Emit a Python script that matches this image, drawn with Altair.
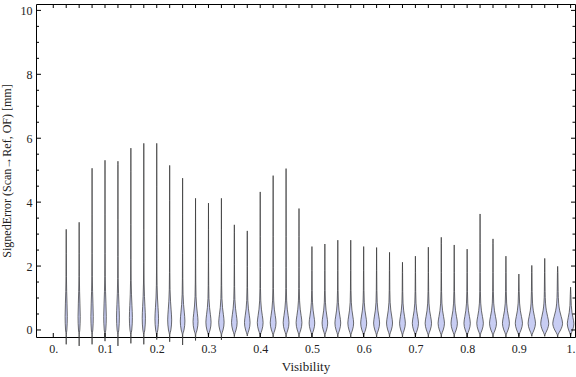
import altair as alt
import pandas as pd

# --- data -------------------------------------------------------------------
centers = [0.025, 0.05, 0.075, 0.1, 0.125, 0.15, 0.175, 0.2, 0.225, 0.25,
           0.275, 0.3, 0.325, 0.35, 0.375, 0.4, 0.425, 0.45, 0.475, 0.5,
           0.525, 0.55, 0.575, 0.6, 0.625, 0.65, 0.675, 0.7, 0.725, 0.75,
           0.775, 0.8, 0.825, 0.85, 0.875, 0.9, 0.925, 0.95, 0.975, 1.0]
max_vals = [3.15, 3.37, 5.06, 5.31, 5.28, 5.69, 5.84, 5.84, 5.15, 4.75,
            4.12, 3.97, 4.12, 3.29, 3.10, 4.32, 4.83, 5.05, 3.80, 2.61,
            2.69, 2.81, 2.81, 2.61, 2.58, 2.43, 2.12, 2.31, 2.59, 2.90,
            2.66, 2.53, 3.63, 2.85, 2.31, 1.75, 2.02, 2.24, 1.99, 1.34]
min_vals = [-0.45, -0.50, -0.45, -0.35, -0.50, -0.42, -0.45, -0.30, -0.37, -0.47,
            -0.33, -0.25, -0.31, -0.21, -0.19, -0.25, -0.25, -0.25, -0.25, -0.25,
            -0.25, -0.25, -0.25, -0.25, -0.25, -0.25, -0.25, -0.25, -0.22, -0.22,
            -0.22, -0.22, -0.22, -0.22, -0.22, -0.20, -0.20, -0.20, -0.22, -0.20]
# half width of the widest part, in pixels
half_width_px = [1.1, 1.1, 1.2, 1.3, 1.4, 1.5, 1.6, 1.8, 2.0, 2.3,
                 2.5, 2.6, 2.7, 2.8, 2.8, 2.9, 2.9, 2.9, 2.9, 2.8,
                 2.8, 2.9, 2.9, 3.0, 3.0, 3.0, 2.9, 3.1, 3.2, 3.2,
                 3.2, 3.2, 3.3, 3.5, 3.5, 3.6, 3.7, 4.0, 4.9, 3.3]
# vertical stretch of the body
spread = [1.2, 1.2, 1.2, 1.2, 1.15, 1.1, 1.05, 1.0, 0.9, 0.8,
          0.75, 0.7, 0.7, 0.68, 0.66, 0.65, 0.65, 0.65, 0.65, 0.62,
          0.62, 0.62, 0.62, 0.62, 0.62, 0.62, 0.6, 0.6, 0.6, 0.6,
          0.6, 0.6, 0.6, 0.6, 0.6, 0.6, 0.6, 0.6, 0.6, 0.55]

# common violin outline (relative height, relative width)
profile_t = [0.0, 0.35, 0.7, 1.0, 1.4, 2.0, 3.0, 4.5]
profile_w = [0.6, 1.0, 0.72, 0.42, 0.2, 0.1, 0.05, 0.03]
bottom_y = [-0.15, -0.08]
bottom_w = [0.08, 0.3]

x_ticks_major = [0.0, 0.1, 0.2, 0.3, 0.4, 0.5, 0.6, 0.7, 0.8, 0.9, 1.0]
x_ticks_top = [0.0] + centers
y_ticks_major = [0, 2, 4, 6, 8, 10]
y_ticks_minor = [0.5, 1, 1.5, 2.5, 3, 3.5, 4.5, 5, 5.5, 6.5, 7, 7.5, 8.5, 9, 9.5]

x_domain = [-0.0334, 1.0085]
y_domain = [-0.22, 10.2]
W, H = 539, 333
PX = (x_domain[1] - x_domain[0]) / W

rows = []
for i, (c, mx, mn, hw, s) in enumerate(zip(centers, max_vals, min_vals, half_width_px, spread)):
    hwx = hw * PX
    pts = [(mn, 0.0)]
    for by, bw in zip(bottom_y, bottom_w):
        if by > mn + 0.02:
            pts.append((by, bw))
    for t, w in zip(profile_t, profile_w):
        if t * s < mx - 0.1:
            pts.append((t * s, w))
    pts.append((mx, 0.0))
    for yy, w in pts:
        rows.append({"vid": f"v{i:02d}", "y": yy, "lo": c - w * hwx, "hi": c + w * hwx})
df = pd.DataFrame(rows)

FONT = "Liberation Serif"
xs = alt.Scale(domain=x_domain, nice=False, zero=False)
ys = alt.Scale(domain=y_domain, nice=False, zero=False)

violins = alt.Chart(df).mark_area(
    orient="horizontal", interpolate="monotone", fill="#c8cdf3",
    stroke="#303030", strokeWidth=0.7, fillOpacity=1
).encode(
    y=alt.Y("y:Q", scale=ys, axis=alt.Axis(
        orient="left", values=y_ticks_major, tickSize=0, domain=False, grid=False,
        labelPadding=4, labelFont=FONT, labelFontSize=12, labelColor="#222",
        title="SignedError (Scan→Ref, OF) [mm]", titleFont=FONT, titleFontSize=12,
        titleFontWeight="normal", titleColor="#222", titlePadding=7)),
    x=alt.X("lo:Q", scale=xs, axis=alt.Axis(
        orient="bottom", values=x_ticks_major, tickSize=0, domain=False, grid=False,
        labelPadding=6, labelFont=FONT, labelFontSize=12, labelColor="#222",
        labelExpr="datum.value == 0 ? '0.' : (datum.value == 1 ? '1.' : format(datum.value, '.1f'))",
        title="Visibility", titleFont=FONT, titleFontSize=13,
        titleFontWeight="normal", titleColor="#222", titlePadding=6)),
    x2="hi:Q",
    detail="vid:N",
)


def x_ticks(values, top):
    d = pd.DataFrame({"t": values})
    y0, y1 = (0, 4) if top else (H, H - 4)
    return alt.Chart(d).mark_rule(color="black", strokeWidth=1).encode(
        x=alt.X("t:Q", scale=xs, axis=None),
        y=alt.value(y0), y2=alt.value(y1))


def y_ticks(values, length, right):
    d = pd.DataFrame({"t": values})
    x0, x1 = (W - length, W) if right else (0, length)
    return alt.Chart(d).mark_rule(color="black", strokeWidth=1).encode(
        y=alt.Y("t:Q", scale=ys, axis=None),
        x=alt.value(x0), x2=alt.value(x1))


ticks = [
    x_ticks(x_ticks_major, top=False),
    x_ticks(x_ticks_top, top=True),
    y_ticks(y_ticks_major, 5, right=False),
    y_ticks(y_ticks_minor, 3, right=False),
    y_ticks(y_ticks_major, 4, right=True),
    y_ticks(y_ticks_minor, 2.5, right=True),
]

chart = alt.layer(violins, *ticks).resolve_axis(
    x="independent", y="independent"
).properties(
    width=W, height=H,
    autosize=alt.AutoSizeParams(type="none"),
    padding={"left": 36, "top": 4, "right": 1, "bottom": 40},
    background="white",
).configure_view(stroke="black", strokeWidth=1)

chart.save("out.html", embed_options={"renderer": "svg", "actions": False})
